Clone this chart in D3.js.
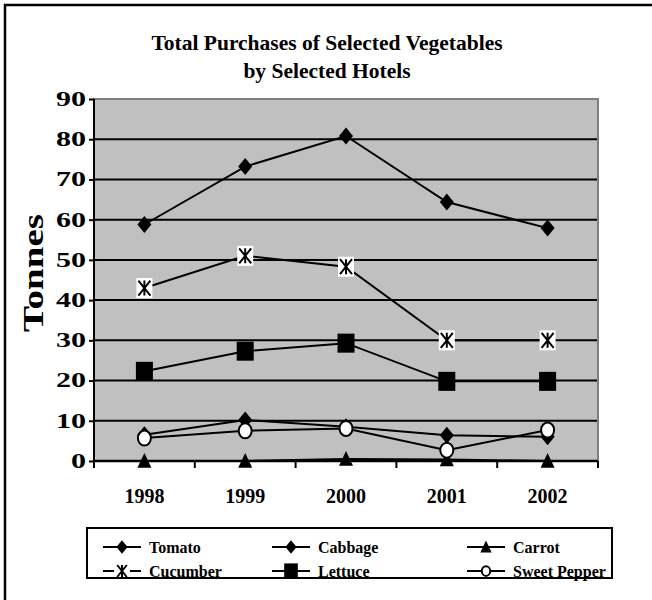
<!DOCTYPE html>
<html>
<head>
<meta charset="utf-8">
<script src="https://cdn.jsdelivr.net/npm/d3@7/dist/d3.min.js"></script>
<style>
  body { margin: 0; background: #fff; }
  svg text { font-family: "Times New Roman", "Liberation Serif", "DejaVu Serif", serif; font-weight: bold; }
</style>
</head>
<body>
<svg id="chart" width="652" height="600"></svg>
<script>
// data
var years = ["1998", "1999", "2000", "2001", "2002"]
var tomato = [58.8, 73.2, 80.8, 64.4, 57.9]
var cabbage = [6.5, 10.2, 8.5, 6.4, 6.0]
var carrot = [0, 0, 0.5, 0.4, 0]
var cucumber = [43, 51, 48.3, 30, 30]
var lettuce = [22.3, 27.3, 29.3, 19.8, 19.8]
var sweetPepper = [5.7, 7.5, 8.1, 2.7, 7.7]
var yTicks = [0, 10, 20, 30, 40, 50, 60, 70, 80, 90]
var seriesNames = ["Tomato", "Cabbage", "Carrot", "Cucumber", "Lettuce", "Sweet Pepper"]
var seriesMarkers = ["bigDiamond", "diamond", "triangle", "star", "square", "circle"]

var series = [tomato, cabbage, carrot, cucumber, lettuce, sweetPepper].map(function(v, i) {
  return { name: seriesNames[i], marker: seriesMarkers[i], values: v }
})

var fontFam = '"Times New Roman", "Liberation Serif", "DejaVu Serif", serif'

var dimensions = {
  width: 652,
  height: 600,
  plot: { left: 94, right: 598, top: 99, bottom: 461 }
}

var svg = d3.select("#chart")

// outer frame (runs off the right and bottom edges)
svg.append("rect")
  .attr("x", 5).attr("y", 5)
  .attr("width", 700).attr("height", 700)
  .attr("fill", "none")
  .attr("stroke", "black")
  .attr("stroke-width", 2.5)

// title
svg.append("text")
  .attr("x", 327).attr("y", 50)
  .attr("text-anchor", "middle")
  .style("font-size", "21.5px")
  .text("Total Purchases of Selected Vegetables")
svg.append("text")
  .attr("x", 327).attr("y", 78)
  .attr("text-anchor", "middle")
  .style("font-size", "21.5px")
  .text("by Selected Hotels")

var x = d3.scaleBand()
  .domain(years)
  .range([dimensions.plot.left, dimensions.plot.right])
var y = d3.scaleLinear()
  .domain([0, 90])
  .range([dimensions.plot.bottom, dimensions.plot.top])

// plot area
svg.append("rect")
  .attr("x", dimensions.plot.left)
  .attr("y", dimensions.plot.top)
  .attr("width", dimensions.plot.right - dimensions.plot.left)
  .attr("height", dimensions.plot.bottom - dimensions.plot.top)
  .attr("fill", "#c0c0c0")
  .attr("stroke", "#808080")
  .attr("stroke-width", 2)

// gridlines
svg.append("g")
  .selectAll("line")
  .data(yTicks.filter(t => t > 0 && t < 90))
  .join("line")
  .attr("x1", dimensions.plot.left)
  .attr("x2", dimensions.plot.right - 1)
  .attr("y1", d => y(d))
  .attr("y2", d => y(d))
  .attr("stroke", "black")
  .attr("stroke-width", 2)

// y axis
var yAxis = svg.append("g")
  .attr("transform", "translate(" + dimensions.plot.left + ",0)")
  .call(d3.axisLeft(y).tickValues(yTicks).tickSize(5).tickPadding(3))
yAxis.selectAll("path, line").attr("stroke", "black").attr("stroke-width", 2)
yAxis.select(".domain").attr("d", "M0," + y(90) + "V" + y(0))
// the labels are drawn wide in the original, so stretch them sideways
yAxis.selectAll("text")
  .style("font-family", fontFam)
  .style("font-weight", "bold")
  .style("font-size", "20px")
  .attr("fill", "black")
  .attr("x", 0)
  .attr("transform", "translate(-8,0) scale(1.5,1)")

// x axis
var xAxis = svg.append("g")
  .attr("transform", "translate(0," + dimensions.plot.bottom + ")")
  .call(d3.axisBottom(x).tickSize(0).tickPadding(28))
xAxis.select(".domain").attr("stroke", "black").attr("stroke-width", 2.5)
  .attr("d", "M" + dimensions.plot.left + ",0H" + dimensions.plot.right)
xAxis.selectAll("text")
  .style("font-family", fontFam)
  .style("font-weight", "bold")
  .style("font-size", "20px")
  .attr("fill", "black")
// category boundary ticks
xAxis.append("g")
  .selectAll("line")
  .data(years.concat(["end"]))
  .join("line")
  .attr("x1", (d, i) => dimensions.plot.left + i * x.step())
  .attr("x2", (d, i) => dimensions.plot.left + i * x.step())
  .attr("y1", 0).attr("y2", 7)
  .attr("stroke", "black")
  .attr("stroke-width", 2)

// y axis title
svg.append("text")
  .attr("transform", "translate(43,273) rotate(-90) scale(1.3,1)")
  .attr("text-anchor", "middle")
  .style("font-size", "30px")
  .text("Tonnes")

// markers
function drawMarker(g, type, cx, cy, s) {
  s = s || 1
  if (type == "bigDiamond" || type == "diamond") {
    var w = 7 * s, h = 8.5 * s
    g.append("path")
      .attr("d", "M" + cx + "," + (cy - h) + "L" + (cx + w) + "," + cy + "L" + cx + "," + (cy + h) + "L" + (cx - w) + "," + cy + "Z")
      .attr("fill", "black")
  } else if (type == "triangle") {
    var w = 7 * s, h = 8 * s
    g.append("path")
      .attr("d", "M" + cx + "," + (cy - h) + "L" + (cx + w) + "," + (cy + h * 0.85) + "L" + (cx - w) + "," + (cy + h * 0.85) + "Z")
      .attr("fill", "black")
  } else if (type == "star") {
    var w = 8 * s, h = 10 * s
    if (s == 1) {
      g.append("rect")
        .attr("x", cx - w).attr("y", cy - h)
        .attr("width", 2 * w).attr("height", 2 * h)
        .attr("fill", "white")
    }
    var a = 6 * s, b = 7.5 * s
    g.append("path")
      .attr("d", "M" + (cx - a) + "," + (cy - b) + "L" + (cx + a) + "," + (cy + b) +
        "M" + (cx + a) + "," + (cy - b) + "L" + (cx - a) + "," + (cy + b) +
        "M" + cx + "," + (cy - b) + "L" + cx + "," + (cy + b))
      .attr("stroke", "black")
      .attr("stroke-width", 2)
      .attr("fill", "none")
  } else if (type == "square") {
    var w = 8.5 * s, h = 9.5 * s
    g.append("rect")
      .attr("x", cx - w).attr("y", cy - h)
      .attr("width", 2 * w).attr("height", 2 * h)
      .attr("fill", "black")
  } else if (type == "circle") {
    g.append("ellipse")
      .attr("cx", cx).attr("cy", cy)
      .attr("rx", 6.5 * s).attr("ry", 7.5 * s)
      .attr("fill", "white")
      .attr("stroke", "black")
      .attr("stroke-width", 2)
  }
}

var line = d3.line()
  .x((d, i) => x(years[i]) + x.bandwidth() / 2)
  .y(d => y(d))

var plotG = svg.append("g")
series.forEach(function(s) {
  var g = plotG.append("g")
  g.append("path")
    .datum(s.values)
    .attr("d", line)
    .attr("fill", "none")
    .attr("stroke", "black")
    .attr("stroke-width", 2)
  s.values.forEach(function(v, i) {
    drawMarker(g, s.marker, x(years[i]) + x.bandwidth() / 2, y(v))
  })
})

// legend
var legend = svg.append("g")
legend.append("rect")
  .attr("x", 87).attr("y", 528)
  .attr("width", 525).attr("height", 50)
  .attr("fill", "white")
  .attr("stroke", "black")
  .attr("stroke-width", 2)

var legendCols = [103, 272, 467]
var legendRows = [547, 571]
series.forEach(function(s, i) {
  var lx = legendCols[i % 3], ly = legendRows[Math.floor(i / 3)]
  var g = legend.append("g")
  if (s.marker == "star") {
    g.append("line").attr("x1", lx).attr("x2", lx + 11).attr("y1", ly).attr("y2", ly)
      .attr("stroke", "black").attr("stroke-width", 2)
    g.append("line").attr("x1", lx + 27).attr("x2", lx + 38).attr("y1", ly).attr("y2", ly)
      .attr("stroke", "black").attr("stroke-width", 2)
  } else {
    g.append("line").attr("x1", lx).attr("x2", lx + 38).attr("y1", ly).attr("y2", ly)
      .attr("stroke", "black").attr("stroke-width", 2)
  }
  drawMarker(g, s.marker == "bigDiamond" ? "diamond" : s.marker, lx + 19, ly, s.marker == "circle" ? 0.65 : 0.8)
  g.append("text")
    .attr("x", lx + 46).attr("y", ly + 6)
    .style("font-size", "16px")
    .text(s.name)
})
</script>
</body>
</html>
